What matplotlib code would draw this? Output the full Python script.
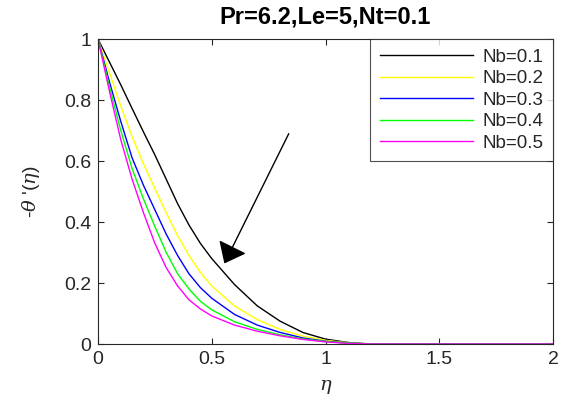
import matplotlib
matplotlib.use("Agg")
import matplotlib.pyplot as plt

plt.rcParams['font.family'] = ['Liberation Sans', 'DejaVu Sans']
plt.rcParams['mathtext.fontset'] = 'dejavuserif'

eta = [0, 0.05, 0.1, 0.15, 0.2, 0.25, 0.3, 0.35, 0.4, 0.45, 0.5, 0.6, 0.7, 0.8, 0.9, 1.0, 1.1, 1.2, 2.0]
nb_01 = [1, 0.925, 0.85, 0.772, 0.695, 0.62, 0.54, 0.46, 0.39, 0.33, 0.28, 0.195, 0.125, 0.075, 0.038, 0.016, 0.005, 0, 0]
nb_02 = [1, 0.89, 0.78, 0.68, 0.59, 0.51, 0.43, 0.355, 0.29, 0.235, 0.19, 0.125, 0.08, 0.048, 0.026, 0.012, 0.004, 0, 0]
nb_03 = [1, 0.86, 0.73, 0.61, 0.52, 0.44, 0.36, 0.29, 0.23, 0.185, 0.15, 0.097, 0.062, 0.038, 0.02, 0.009, 0.003, 0, 0]
nb_04 = [1, 0.845, 0.70, 0.575, 0.475, 0.385, 0.30, 0.23, 0.18, 0.14, 0.112, 0.073, 0.048, 0.03, 0.017, 0.008, 0.003, 0, 0]
nb_05 = [1, 0.83, 0.67, 0.54, 0.43, 0.33, 0.25, 0.19, 0.145, 0.115, 0.092, 0.062, 0.042, 0.027, 0.015, 0.007, 0.002, 0, 0]
series = [nb_01, nb_02, nb_03, nb_04, nb_05]
labels = ['Nb=0.1', 'Nb=0.2', 'Nb=0.3', 'Nb=0.4', 'Nb=0.5']
colors = ['black', '#ffff00', '#0000ff', '#00ff00', '#ff00ff']

xticks = [0, 0.5, 1, 1.5, 2]
xticklabels = ['0', '0.5', '1', '1.5', '2']
yticks = [0, 0.2, 0.4, 0.6, 0.8, 1]
yticklabels = ['0', '0.2', '0.4', '0.6', '0.8', '1']

fig = plt.figure(figsize=(5.62, 4.05), dpi=100)
ax = fig.add_axes([0.1744, 0.1506, 0.8096, 0.753])

for y, lab, c in zip(series, labels, colors):
    ax.plot(eta, y, color=c, lw=1.0, label=lab)

ax.set_xlim(0, 2)
ax.set_ylim(0, 1)
ax.set_xticks(xticks)
ax.set_xticklabels(xticklabels)
ax.set_yticks(yticks)
ax.set_yticklabels(yticklabels)
ax.tick_params(direction='in', top=True, right=True, labelsize=14, colors='#262626', length=4, pad=5)
for s in ax.spines.values():
    s.set_color('#262626')
    s.set_linewidth(0.8)

ax.set_xlabel(r'$\eta$', fontsize=14, color='#262626', labelpad=7)
ax.set_ylabel(r"-$\theta$ '($\eta$)", fontsize=14, color='#262626', labelpad=16)
ax.set_title('Pr=6.2,Le=5,Nt=0.1', fontsize=17, fontweight='bold', pad=11)

ax.annotate('', xy=(0.55, 0.256), xytext=(0.844, 0.698),
            arrowprops=dict(arrowstyle='-|>,head_length=0.5,head_width=0.4', mutation_scale=24, color='black', lw=1.0))

leg = ax.legend(loc='upper right', fontsize=13.5, frameon=True, fancybox=False,
                edgecolor='#262626', borderaxespad=0.0, handlelength=5.0,
                labelspacing=0.24, borderpad=0.5, handletextpad=0.5)
leg.get_frame().set_linewidth(0.8)
for t in leg.get_texts():
    t.set_color('#262626')

fig.savefig('out.png', dpi=100)
